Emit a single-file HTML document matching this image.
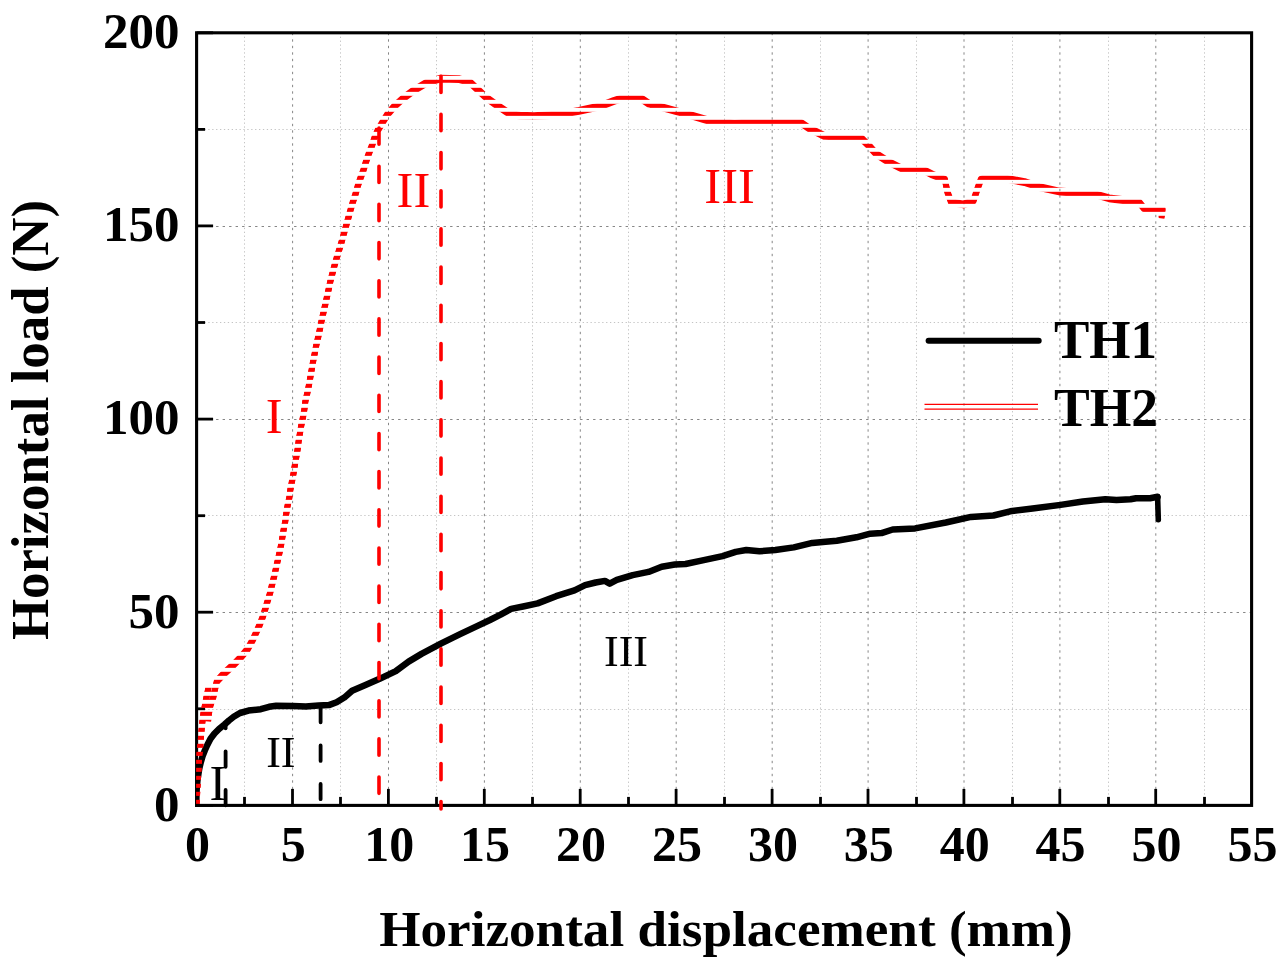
<!DOCTYPE html><html><head><meta charset="utf-8"><title>Horizontal load vs displacement</title>
<style>html,body{margin:0;padding:0;background:#fff}svg{display:block}text{font-family:"Liberation Serif","Times New Roman",serif}.b{font-weight:bold;font-size:51px;fill:#000}</style></head><body>
<svg width="1287" height="972" viewBox="0 0 1287 972">
<rect width="1287" height="972" fill="#fff"/>
<defs><clipPath id="st">
<rect x="0" y="-0.2" width="1287" height="4.05"/>
<rect x="0" y="7.8" width="1287" height="4.05"/>
<rect x="0" y="15.8" width="1287" height="4.05"/>
<rect x="0" y="23.8" width="1287" height="4.05"/>
<rect x="0" y="31.8" width="1287" height="4.05"/>
<rect x="0" y="39.8" width="1287" height="4.05"/>
<rect x="0" y="47.8" width="1287" height="4.05"/>
<rect x="0" y="55.8" width="1287" height="4.05"/>
<rect x="0" y="63.8" width="1287" height="4.05"/>
<rect x="0" y="71.8" width="1287" height="4.05"/>
<rect x="0" y="79.8" width="1287" height="4.05"/>
<rect x="0" y="87.8" width="1287" height="4.05"/>
<rect x="0" y="95.8" width="1287" height="4.05"/>
<rect x="0" y="103.8" width="1287" height="4.05"/>
<rect x="0" y="111.8" width="1287" height="4.05"/>
<rect x="0" y="119.8" width="1287" height="4.05"/>
<rect x="0" y="127.8" width="1287" height="4.05"/>
<rect x="0" y="135.8" width="1287" height="4.05"/>
<rect x="0" y="143.8" width="1287" height="4.05"/>
<rect x="0" y="151.8" width="1287" height="4.05"/>
<rect x="0" y="159.8" width="1287" height="4.05"/>
<rect x="0" y="167.8" width="1287" height="4.05"/>
<rect x="0" y="175.8" width="1287" height="4.05"/>
<rect x="0" y="183.8" width="1287" height="4.05"/>
<rect x="0" y="191.8" width="1287" height="4.05"/>
<rect x="0" y="199.8" width="1287" height="4.05"/>
<rect x="0" y="207.8" width="1287" height="4.05"/>
<rect x="0" y="215.8" width="1287" height="4.05"/>
<rect x="0" y="223.8" width="1287" height="4.05"/>
<rect x="0" y="231.8" width="1287" height="4.05"/>
<rect x="0" y="239.8" width="1287" height="4.05"/>
<rect x="0" y="247.8" width="1287" height="4.05"/>
<rect x="0" y="255.8" width="1287" height="4.05"/>
<rect x="0" y="263.8" width="1287" height="4.05"/>
<rect x="0" y="271.8" width="1287" height="4.05"/>
<rect x="0" y="279.8" width="1287" height="4.05"/>
<rect x="0" y="287.8" width="1287" height="4.05"/>
<rect x="0" y="295.8" width="1287" height="4.05"/>
<rect x="0" y="303.8" width="1287" height="4.05"/>
<rect x="0" y="311.8" width="1287" height="4.05"/>
<rect x="0" y="319.8" width="1287" height="4.05"/>
<rect x="0" y="327.8" width="1287" height="4.05"/>
<rect x="0" y="335.8" width="1287" height="4.05"/>
<rect x="0" y="343.8" width="1287" height="4.05"/>
<rect x="0" y="351.8" width="1287" height="4.05"/>
<rect x="0" y="359.8" width="1287" height="4.05"/>
<rect x="0" y="367.8" width="1287" height="4.05"/>
<rect x="0" y="375.8" width="1287" height="4.05"/>
<rect x="0" y="383.8" width="1287" height="4.05"/>
<rect x="0" y="391.8" width="1287" height="4.05"/>
<rect x="0" y="399.8" width="1287" height="4.05"/>
<rect x="0" y="407.8" width="1287" height="4.05"/>
<rect x="0" y="415.8" width="1287" height="4.05"/>
<rect x="0" y="423.8" width="1287" height="4.05"/>
<rect x="0" y="431.8" width="1287" height="4.05"/>
<rect x="0" y="439.8" width="1287" height="4.05"/>
<rect x="0" y="447.8" width="1287" height="4.05"/>
<rect x="0" y="455.8" width="1287" height="4.05"/>
<rect x="0" y="463.8" width="1287" height="4.05"/>
<rect x="0" y="471.8" width="1287" height="4.05"/>
<rect x="0" y="479.8" width="1287" height="4.05"/>
<rect x="0" y="487.8" width="1287" height="4.05"/>
<rect x="0" y="495.8" width="1287" height="4.05"/>
<rect x="0" y="503.8" width="1287" height="4.05"/>
<rect x="0" y="511.8" width="1287" height="4.05"/>
<rect x="0" y="519.8" width="1287" height="4.05"/>
<rect x="0" y="527.8" width="1287" height="4.05"/>
<rect x="0" y="535.8" width="1287" height="4.05"/>
<rect x="0" y="543.8" width="1287" height="4.05"/>
<rect x="0" y="551.8" width="1287" height="4.05"/>
<rect x="0" y="559.8" width="1287" height="4.05"/>
<rect x="0" y="567.8" width="1287" height="4.05"/>
<rect x="0" y="575.8" width="1287" height="4.05"/>
<rect x="0" y="583.8" width="1287" height="4.05"/>
<rect x="0" y="591.8" width="1287" height="4.05"/>
<rect x="0" y="599.8" width="1287" height="4.05"/>
<rect x="0" y="607.8" width="1287" height="4.05"/>
<rect x="0" y="615.8" width="1287" height="4.05"/>
<rect x="0" y="623.8" width="1287" height="4.05"/>
<rect x="0" y="631.8" width="1287" height="4.05"/>
<rect x="0" y="639.8" width="1287" height="4.05"/>
<rect x="0" y="647.8" width="1287" height="4.05"/>
<rect x="0" y="655.8" width="1287" height="4.05"/>
<rect x="0" y="663.8" width="1287" height="4.05"/>
<rect x="0" y="671.8" width="1287" height="4.05"/>
<rect x="0" y="679.8" width="1287" height="4.05"/>
<rect x="0" y="687.8" width="1287" height="4.05"/>
<rect x="0" y="695.8" width="1287" height="4.05"/>
<rect x="0" y="703.8" width="1287" height="4.05"/>
<rect x="0" y="711.8" width="1287" height="4.05"/>
<rect x="0" y="719.8" width="1287" height="4.05"/>
<rect x="0" y="727.8" width="1287" height="4.05"/>
<rect x="0" y="735.8" width="1287" height="4.05"/>
<rect x="0" y="743.8" width="1287" height="4.05"/>
<rect x="0" y="751.8" width="1287" height="4.05"/>
<rect x="0" y="759.8" width="1287" height="4.05"/>
<rect x="0" y="767.8" width="1287" height="4.05"/>
<rect x="0" y="775.8" width="1287" height="4.05"/>
<rect x="0" y="783.8" width="1287" height="4.05"/>
<rect x="0" y="791.8" width="1287" height="4.05"/>
<rect x="0" y="799.8" width="1287" height="4.05"/>
<rect x="0" y="807.8" width="1287" height="4.05"/>
<rect x="0" y="815.8" width="1287" height="4.05"/>
<rect x="0" y="823.8" width="1287" height="4.05"/>
<rect x="0" y="831.8" width="1287" height="4.05"/>
<rect x="0" y="839.8" width="1287" height="4.05"/>
<rect x="0" y="847.8" width="1287" height="4.05"/>
<rect x="0" y="855.8" width="1287" height="4.05"/>
<rect x="0" y="863.8" width="1287" height="4.05"/>
<rect x="0" y="871.8" width="1287" height="4.05"/>
<rect x="0" y="879.8" width="1287" height="4.05"/>
<rect x="0" y="887.8" width="1287" height="4.05"/>
<rect x="0" y="895.8" width="1287" height="4.05"/>
<rect x="0" y="903.8" width="1287" height="4.05"/>
<rect x="0" y="911.8" width="1287" height="4.05"/>
<rect x="0" y="919.8" width="1287" height="4.05"/>
<rect x="0" y="927.8" width="1287" height="4.05"/>
<rect x="0" y="935.8" width="1287" height="4.05"/>
<rect x="0" y="943.8" width="1287" height="4.05"/>
<rect x="0" y="951.8" width="1287" height="4.05"/>
<rect x="0" y="959.8" width="1287" height="4.05"/>
<rect x="0" y="967.8" width="1287" height="4.05"/>
</clipPath><clipPath id="pa"><rect x="195.1" y="32.8" width="1056.5" height="774.1"/></clipPath><clipPath id="pr"><rect x="196.1" y="32.8" width="1055.0" height="771.6"/></clipPath></defs>
<g fill="none" stroke="#c4c4c4" stroke-width="1" stroke-dasharray="1.3 2.6">
<line x1="244.5" y1="32.8" x2="244.5" y2="805.4"/>
<line x1="340.5" y1="32.8" x2="340.5" y2="805.4"/>
<line x1="436.5" y1="32.8" x2="436.5" y2="805.4"/>
<line x1="532.5" y1="32.8" x2="532.5" y2="805.4"/>
<line x1="628.5" y1="32.8" x2="628.5" y2="805.4"/>
<line x1="724.5" y1="32.8" x2="724.5" y2="805.4"/>
<line x1="820.5" y1="32.8" x2="820.5" y2="805.4"/>
<line x1="916.5" y1="32.8" x2="916.5" y2="805.4"/>
<line x1="1012.5" y1="32.8" x2="1012.5" y2="805.4"/>
<line x1="1108.5" y1="32.8" x2="1108.5" y2="805.4"/>
<line x1="1204.5" y1="32.8" x2="1204.5" y2="805.4"/>
<line x1="196.6" y1="709.5" x2="1251.6" y2="709.5"/>
<line x1="196.6" y1="515.5" x2="1251.6" y2="515.5"/>
<line x1="196.6" y1="322.5" x2="1251.6" y2="322.5"/>
<line x1="196.6" y1="129.5" x2="1251.6" y2="129.5"/>
</g>
<g fill="none" stroke="#868686" stroke-width="1" stroke-dasharray="2.4 4.1">
<line x1="292.6" y1="32.8" x2="292.6" y2="805.4"/>
<line x1="388.5" y1="32.8" x2="388.5" y2="805.4"/>
<line x1="484.4" y1="32.8" x2="484.4" y2="805.4"/>
<line x1="580.3" y1="32.8" x2="580.3" y2="805.4"/>
<line x1="676.2" y1="32.8" x2="676.2" y2="805.4"/>
<line x1="772.2" y1="32.8" x2="772.2" y2="805.4"/>
<line x1="868.1" y1="32.8" x2="868.1" y2="805.4"/>
<line x1="964.0" y1="32.8" x2="964.0" y2="805.4"/>
<line x1="1059.9" y1="32.8" x2="1059.9" y2="805.4"/>
<line x1="1155.8" y1="32.8" x2="1155.8" y2="805.4"/>
<line x1="196.6" y1="612.5" x2="1251.6" y2="612.5"/>
<line x1="196.6" y1="419.5" x2="1251.6" y2="419.5"/>
<line x1="196.6" y1="226.5" x2="1251.6" y2="226.5"/>
</g>
<g stroke="#000" stroke-width="2.8" fill="none">
<line x1="196.6" y1="805.4" x2="196.6" y2="788.9"/>
<line x1="292.5" y1="805.4" x2="292.5" y2="788.9"/>
<line x1="388.4" y1="805.4" x2="388.4" y2="788.9"/>
<line x1="484.3" y1="805.4" x2="484.3" y2="788.9"/>
<line x1="580.2" y1="805.4" x2="580.2" y2="788.9"/>
<line x1="676.1" y1="805.4" x2="676.1" y2="788.9"/>
<line x1="772.1" y1="805.4" x2="772.1" y2="788.9"/>
<line x1="868.0" y1="805.4" x2="868.0" y2="788.9"/>
<line x1="963.9" y1="805.4" x2="963.9" y2="788.9"/>
<line x1="1059.8" y1="805.4" x2="1059.8" y2="788.9"/>
<line x1="1155.7" y1="805.4" x2="1155.7" y2="788.9"/>
<line x1="244.5" y1="805.4" x2="244.5" y2="796.9"/>
<line x1="340.5" y1="805.4" x2="340.5" y2="796.9"/>
<line x1="436.5" y1="805.4" x2="436.5" y2="796.9"/>
<line x1="532.5" y1="805.4" x2="532.5" y2="796.9"/>
<line x1="628.5" y1="805.4" x2="628.5" y2="796.9"/>
<line x1="724.5" y1="805.4" x2="724.5" y2="796.9"/>
<line x1="820.5" y1="805.4" x2="820.5" y2="796.9"/>
<line x1="916.5" y1="805.4" x2="916.5" y2="796.9"/>
<line x1="1012.5" y1="805.4" x2="1012.5" y2="796.9"/>
<line x1="1108.5" y1="805.4" x2="1108.5" y2="796.9"/>
<line x1="1204.5" y1="805.4" x2="1204.5" y2="796.9"/>
<line x1="196.6" y1="805.4" x2="213.1" y2="805.4"/>
<line x1="196.6" y1="612.2" x2="213.1" y2="612.2"/>
<line x1="196.6" y1="419.1" x2="213.1" y2="419.1"/>
<line x1="196.6" y1="225.9" x2="213.1" y2="225.9"/>
<line x1="196.6" y1="32.8" x2="213.1" y2="32.8"/>
<line x1="196.6" y1="708.8" x2="205.1" y2="708.8"/>
<line x1="196.6" y1="515.7" x2="205.1" y2="515.7"/>
<line x1="196.6" y1="322.5" x2="205.1" y2="322.5"/>
<line x1="196.6" y1="129.4" x2="205.1" y2="129.4"/>
</g>
<rect x="196.6" y="32.8" width="1055.0" height="772.6" fill="none" stroke="#000" stroke-width="3.1"/>
<g clip-path="url(#pa)">
<polyline fill="none" stroke="#000" stroke-width="6.5" stroke-linejoin="round" stroke-linecap="round" points="196.2,806.0 196.5,793.2 196.8,787.0 197.4,780.9 198.3,774.7 199.3,768.5 200.8,762.3 202.6,756.2 204.8,750.5 207.3,745.0 210.5,738.8 214.5,733.5 219.0,729.0 224.5,724.5 229.0,720.5 233.7,716.8 240.0,713.0 248.5,710.6 260.8,709.2 269.1,706.8 276.2,705.7 292.9,706.1 305.8,706.4 318.6,705.6 328.9,705.1 336.6,702.3 344.3,697.6 352.1,690.7 364.9,685.3 379.1,679.1 395.8,671.1 408.6,661.6 421.5,653.9 440.8,643.6 460.1,634.1 478.1,625.6 490.0,620.0 500.6,614.7 511.1,608.9 524.3,606.3 537.6,603.4 556.1,596.2 574.5,590.4 585.1,585.2 595.7,582.5 604.9,580.9 609.7,583.6 616.8,579.9 632.7,575.1 648.5,571.9 661.7,566.7 674.9,564.5 685.5,564.0 701.4,560.6 722.5,556.1 735.7,551.9 746.3,550.0 759.5,551.3 775.3,550.0 793.8,547.4 812.3,542.9 825.5,541.8 836.8,540.7 856.4,537.3 870.3,533.7 881.5,533.1 892.7,529.5 915.1,528.4 945.9,522.5 971.0,516.9 993.4,515.5 1010.2,511.3 1032.6,508.5 1060.6,504.9 1082.9,501.5 1105.3,499.3 1116.5,500.1 1130.5,499.3 1136.1,498.2 1150.1,498.2 1157.6,496.8"/>
<polyline fill="none" stroke="#000" stroke-width="5.6" stroke-linejoin="round" stroke-linecap="round" points="1157.6,496.8 1158.3,519.7"/>
</g>
<g fill="none" stroke="#000" stroke-width="3.8" stroke-linecap="round" stroke-dasharray="15.5 23.1">
<line x1="225.6" y1="751.3" x2="225.6" y2="805.3"/>
<line x1="225.6" y1="724" x2="225.6" y2="728.3" stroke-dasharray="none"/>
<line x1="320.6" y1="706.8" x2="320.6" y2="799.2"/>
</g>
<g clip-path="url(#pr)"><g clip-path="url(#st)" fill="none" stroke="#ff0000" stroke-width="5.8" stroke-linejoin="round" stroke-linecap="butt">
<polyline points="196.5,805.0 196.8,799.8 197.2,792.4 197.6,784.3 198.1,776.2 198.5,768.1 198.9,760.0 199.5,752.0 200.4,743.9 201.0,735.8 201.7,727.4 202.5,719.9 203.5,711.9 205.0,704.0 206.5,696.1 208.2,688.0 208.8,684.8"/>
<polyline points="208.2,719.5 209.0,711.9 210.5,704.0 213.3,696.1 215.0,688.0 217.0,679.9 224.6,672.0 233.3,664.0 241.1,656.0 247.6,648.1 252.9,638.6 256.0,631.9 259.6,624.0 262.7,616.0 265.3,607.9 267.6,600.0 270.1,592.0 272.0,584.0 274.0,576.0 275.8,568.1 277.6,560.1 279.4,552.2 281.1,544.1 282.4,536.2 283.7,528.2 285.3,520.2 286.3,512.3 287.6,504.6 289.4,496.3 290.4,488.3 292.0,480.4 293.5,472.5 294.8,464.4 296.2,456.4 297.6,448.5 298.6,440.3 301.3,424.3 303.0,416.2 304.4,408.2 305.4,400.2 307.3,392.2 308.9,384.4 310.3,376.4 311.7,368.4 313.1,360.5 314.7,352.5 316.2,344.6 318.1,336.5 319.8,328.6 321.4,320.6 323.2,312.7 325.0,304.6 326.8,296.7 328.5,289.0 330.3,280.6 332.4,272.5 334.5,264.5 336.8,256.6 339.3,248.5 341.7,240.6 343.9,232.6 346.1,224.7 348.4,216.6 350.6,208.7 353.0,200.7 355.5,193.2 357.8,184.9 360.6,176.7 363.5,169.0 366.0,160.7 368.8,152.8 371.9,144.8 374.5,136.9 378.1,128.8 382.9,120.8 387.7,113.0 394.8,104.8 403.7,96.9 414.5,88.9 427.0,81.5 439.9,77.7 459.5,78.2 470.0,81.3 478.0,88.9 486.6,96.9 497.8,104.8 509.3,112.6 520.0,114.6 534.1,115.2 559.0,113.5 578.9,109.9 598.8,105.7 613.7,100.0 623.7,96.8 641.1,97.5 648.6,102.5 657.4,105.0 684.8,112.5 709.7,119.9 734.5,122.4 759.4,120.7 779.3,121.7 799.2,120.7 809.2,127.4 824.1,134.9 839.0,135.6 861.4,137.4 868.9,144.8 876.3,153.0 888.8,161.0 903.7,168.5 923.6,169.0 932.4,173.6 944.9,178.6 947.4,191.0 951.1,201.0 963.5,203.5 973.5,199.7 977.2,188.6 980.9,178.6 989.7,174.9 1004.6,177.4 1024.5,181.1 1039.4,186.1 1059.3,190.5 1094.1,193.0 1109.1,197.3 1138.9,201.0 1143.9,207.2 1162.5,208.5 1161.5,216.4"/>
<polyline points="196.5,806.0 196.8,800.8 197.2,793.4 197.6,785.3 198.1,777.2 198.5,769.1 198.9,761.0 199.5,753.0 200.4,744.9 201.0,736.8 201.7,728.4 202.5,720.9 203.5,712.9 205.0,705.0 206.5,697.1 208.2,689.0 208.8,685.8"/>
<polyline points="208.2,720.5 209.0,712.9 210.5,705.0 213.3,697.1 215.0,689.0 217.0,680.9 224.6,673.0 233.3,665.0 241.1,657.0 247.6,649.1 252.9,639.6 256.0,632.9 259.6,625.0 262.7,617.0 265.3,608.9 267.6,601.0 270.1,593.0 272.0,585.0 274.0,577.0 275.8,569.1 277.6,561.1 279.4,553.2 281.1,545.1 282.4,537.2 283.7,529.2 285.3,521.2 286.3,513.3 287.6,505.6 289.4,497.3 290.4,489.3 292.0,481.4 293.5,473.5 294.8,465.4 296.2,457.4 297.6,449.5 298.6,441.3 301.3,425.3 303.0,417.2 304.4,409.2 305.4,401.2 307.3,393.2 308.9,385.4 310.3,377.4 311.7,369.4 313.1,361.5 314.7,353.5 316.2,345.6 318.1,337.5 319.8,329.6 321.4,321.6 323.2,313.7 325.0,305.6 326.8,297.7 328.5,290.0 330.3,281.6 332.4,273.5 334.5,265.5 336.8,257.6 339.3,249.5 341.7,241.6 343.9,233.6 346.1,225.7 348.4,217.6 350.6,209.7 353.0,201.7 355.5,194.2 357.8,185.9 360.6,177.7 363.5,170.0 366.0,161.7 368.8,153.8 371.9,145.8 374.5,137.9 378.1,129.8 382.9,121.8 387.7,114.0 394.8,105.8 403.7,97.9 414.5,89.9 427.0,82.5 439.9,78.7 459.5,79.2 470.0,82.3 478.0,89.9 486.6,97.9 497.8,105.8 509.3,113.6 520.0,115.6 534.1,116.2 559.0,114.5 578.9,110.9 598.8,106.7 613.7,101.0 623.7,97.8 641.1,98.5 648.6,103.5 657.4,106.0 684.8,113.5 709.7,120.9 734.5,123.4 759.4,121.7 779.3,122.7 799.2,121.7 809.2,128.4 824.1,135.9 839.0,136.6 861.4,138.4 868.9,145.8 876.3,154.0 888.8,162.0 903.7,169.5 923.6,170.0 932.4,174.6 944.9,179.6 947.4,192.0 951.1,202.0 963.5,204.5 973.5,200.7 977.2,189.6 980.9,179.6 989.7,175.9 1004.6,178.4 1024.5,182.1 1039.4,187.1 1059.3,191.5 1094.1,194.0 1109.1,198.3 1138.9,202.0 1143.9,208.2 1162.5,209.5 1161.5,217.4"/>
<polyline points="196.5,807.0 196.8,801.8 197.2,794.4 197.6,786.3 198.1,778.2 198.5,770.1 198.9,762.0 199.5,754.0 200.4,745.9 201.0,737.8 201.7,729.4 202.5,721.9 203.5,713.9 205.0,706.0 206.5,698.1 208.2,690.0 208.8,686.8"/>
<polyline points="208.2,721.5 209.0,713.9 210.5,706.0 213.3,698.1 215.0,690.0 217.0,681.9 224.6,674.0 233.3,666.0 241.1,658.0 247.6,650.1 252.9,640.6 256.0,633.9 259.6,626.0 262.7,618.0 265.3,609.9 267.6,602.0 270.1,594.0 272.0,586.0 274.0,578.0 275.8,570.1 277.6,562.1 279.4,554.2 281.1,546.1 282.4,538.2 283.7,530.2 285.3,522.2 286.3,514.3 287.6,506.6 289.4,498.3 290.4,490.3 292.0,482.4 293.5,474.5 294.8,466.4 296.2,458.4 297.6,450.5 298.6,442.3 301.3,426.3 303.0,418.2 304.4,410.2 305.4,402.2 307.3,394.2 308.9,386.4 310.3,378.4 311.7,370.4 313.1,362.5 314.7,354.5 316.2,346.6 318.1,338.5 319.8,330.6 321.4,322.6 323.2,314.7 325.0,306.6 326.8,298.7 328.5,291.0 330.3,282.6 332.4,274.5 334.5,266.5 336.8,258.6 339.3,250.5 341.7,242.6 343.9,234.6 346.1,226.7 348.4,218.6 350.6,210.7 353.0,202.7 355.5,195.2 357.8,186.9 360.6,178.7 363.5,171.0 366.0,162.7 368.8,154.8 371.9,146.8 374.5,138.9 378.1,130.8 382.9,122.8 387.7,115.0 394.8,106.8 403.7,98.9 414.5,90.9 427.0,83.5 439.9,79.7 459.5,80.2 470.0,83.3 478.0,90.9 486.6,98.9 497.8,106.8 509.3,114.6 520.0,116.6 534.1,117.2 559.0,115.5 578.9,111.9 598.8,107.7 613.7,102.0 623.7,98.8 641.1,99.5 648.6,104.5 657.4,107.0 684.8,114.5 709.7,121.9 734.5,124.4 759.4,122.7 779.3,123.7 799.2,122.7 809.2,129.4 824.1,136.9 839.0,137.6 861.4,139.4 868.9,146.8 876.3,155.0 888.8,163.0 903.7,170.5 923.6,171.0 932.4,175.6 944.9,180.6 947.4,193.0 951.1,203.0 963.5,205.5 973.5,201.7 977.2,190.6 980.9,180.6 989.7,176.9 1004.6,179.4 1024.5,183.1 1039.4,188.1 1059.3,192.5 1094.1,195.0 1109.1,199.3 1138.9,203.0 1143.9,209.2 1162.5,210.5 1161.5,218.4"/>
</g></g>
<g fill="none" stroke="#ff0000" stroke-width="3.6" stroke-linecap="round" stroke-dasharray="16.3 21.88">
<line x1="379" y1="128" x2="379" y2="793.6"/>
<line x1="441" y1="76.2" x2="441" y2="808.9"/>
</g>
<g class="b" text-anchor="middle">
<text transform="translate(197.4 860.8) scale(0.98 1)">0</text>
<text transform="translate(293.3 860.8) scale(0.98 1)">5</text>
<text transform="translate(389.2 860.8) scale(0.98 1)">10</text>
<text transform="translate(485.1 860.8) scale(0.98 1)">15</text>
<text transform="translate(581.0 860.8) scale(0.98 1)">20</text>
<text transform="translate(676.9 860.8) scale(0.98 1)">25</text>
<text transform="translate(772.9 860.8) scale(0.98 1)">30</text>
<text transform="translate(868.8 860.8) scale(0.98 1)">35</text>
<text transform="translate(964.7 860.8) scale(0.98 1)">40</text>
<text transform="translate(1060.6 860.8) scale(0.98 1)">45</text>
<text transform="translate(1156.5 860.8) scale(0.98 1)">50</text>
<text transform="translate(1252.4 860.8) scale(0.98 1)">55</text>
</g>
<g class="b" text-anchor="end">
<text x="179.5" y="820.7">0</text>
<text x="179.5" y="627.5">50</text>
<text x="179.5" y="434.4">100</text>
<text x="179.5" y="241.2">150</text>
<text x="179.5" y="48.1">200</text>
</g>
<text class="b" text-anchor="middle" transform="translate(726 945.6) scale(1.042 1)">Horizontal displacement (mm)</text>
<text class="b" text-anchor="middle" transform="translate(48.3 420) rotate(-90) scale(1.036 1.03)">Horizontal load (N)</text>
<line x1="928.6" y1="340.8" x2="1038.7" y2="340.8" stroke="#000" stroke-width="6" stroke-linecap="round"/>
<line x1="924.5" y1="404.4" x2="1038" y2="404.4" stroke="#ff0000" stroke-width="1.3"/>
<line x1="924.5" y1="409.2" x2="1038" y2="409.2" stroke="#ff0000" stroke-width="1.3"/>
<text class="b" style="font-size:55px" transform="translate(1054 357.9) scale(0.963 1)">TH1</text>
<text class="b" style="font-size:55px" transform="translate(1054 426) scale(0.973 1)">TH2</text>
<g text-anchor="middle" fill="#ff0000" font-size="50.5">
<text x="274.2" y="433.1">I</text>
<text x="413.4" y="207.3">II</text>
<text x="729.6" y="202.8">III</text>
</g>
<g text-anchor="middle" fill="#000">
<text x="217.8" y="800.3" font-size="50">I</text>
<text x="280.8" y="767" font-size="44">II</text>
<text x="626" y="666" font-size="44">III</text>
</g>
</svg></body></html>
